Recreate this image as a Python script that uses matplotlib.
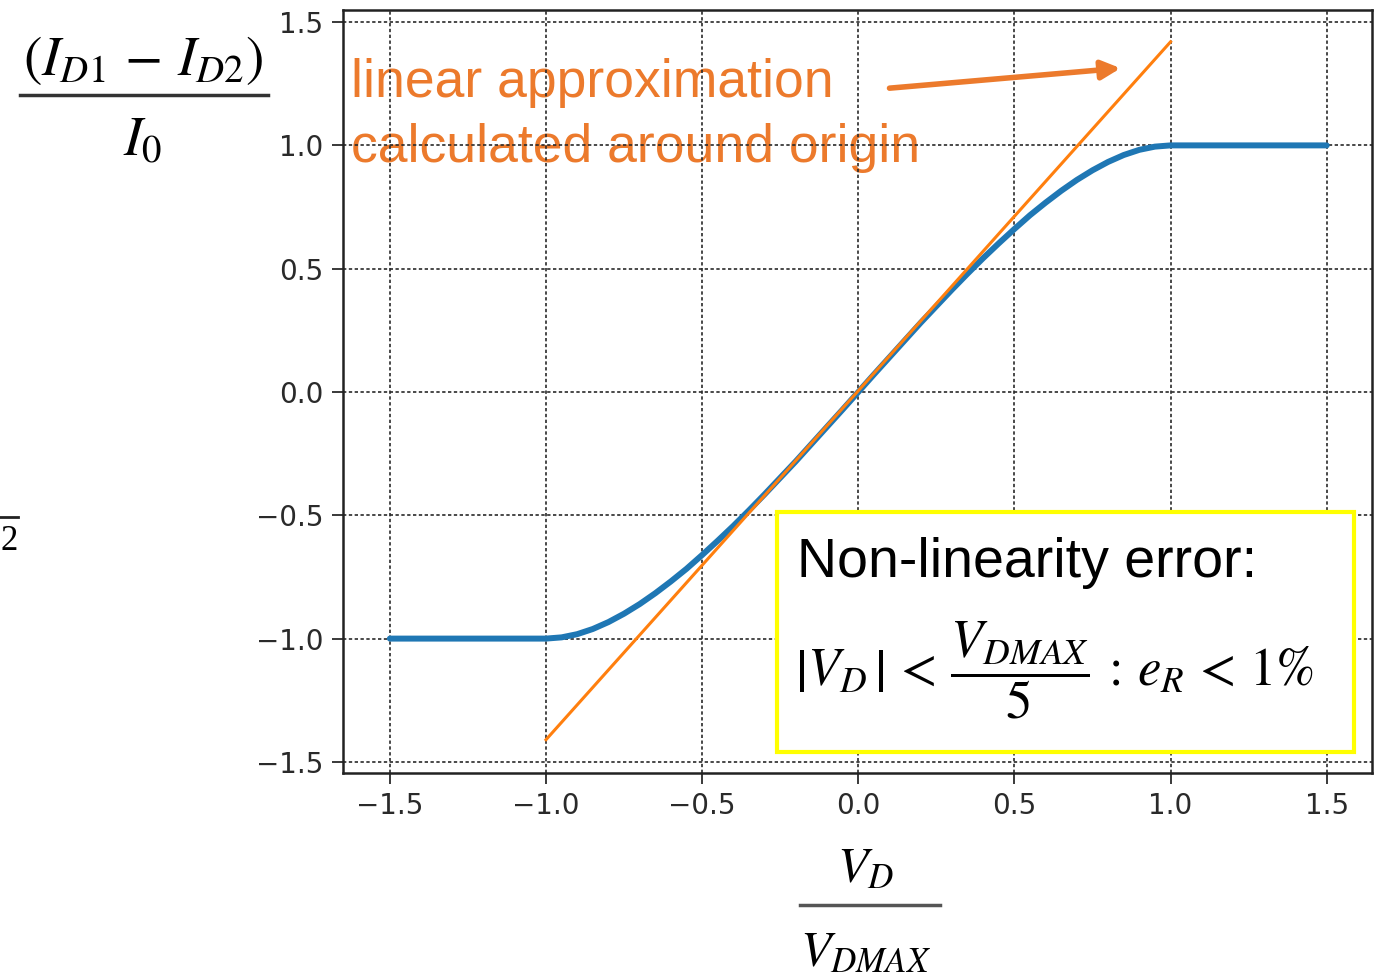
import matplotlib
matplotlib.use("Agg")
import matplotlib.pyplot as plt
from matplotlib.patches import Rectangle
from matplotlib.lines import Line2D

plt.rcParams['mathtext.fontset'] = 'stix'

# normalised transfer curve
vd_norm = [-1.5, -1.25, -1.0, -0.95, -0.9, -0.85, -0.8, -0.75, -0.7, -0.65, -0.6,
           -0.55, -0.5, -0.45, -0.4, -0.35, -0.3, -0.25, -0.2, -0.15, -0.1, -0.05,
           0.0, 0.05, 0.1, 0.15, 0.2, 0.25, 0.3, 0.35, 0.4, 0.45, 0.5, 0.55, 0.6,
           0.65, 0.7, 0.75, 0.8, 0.85, 0.9, 0.95, 1.0, 1.25, 1.5]
id_norm = [-1.0, -1.0, -1.0, -0.995, -0.982, -0.961, -0.933, -0.899, -0.86, -0.816,
           -0.768, -0.717, -0.661, -0.603, -0.543, -0.48, -0.415, -0.348, -0.281,
           -0.211, -0.141, -0.071, 0.0, 0.071, 0.141, 0.211, 0.281, 0.348, 0.415,
           0.48, 0.543, 0.603, 0.661, 0.717, 0.768, 0.816, 0.86, 0.899, 0.933,
           0.961, 0.982, 0.995, 1.0, 1.0, 1.0]

# linear approximation around the origin
lin_x = [-1.0, 1.0]
lin_y = [-1.41, 1.42]

ticks = [-1.5, -1.0, -0.5, 0.0, 0.5, 1.0, 1.5]

W, H = 1374, 977
orange_txt = '#ec7a2c'

fig = plt.figure(figsize=(W / 100, H / 100), dpi=100)
ax = fig.add_axes([343 / W, 1 - 773 / H, (1372 - 343) / W, (773 - 10) / H])

ax.plot(vd_norm, id_norm, color='#1f77b4', lw=4.3, solid_capstyle='round')
ax.plot(lin_x, lin_y, color='#ff7f0e', lw=2.2)

ax.set_xlim(-1.65, 1.645)
ax.set_ylim(-1.545, 1.549)
ax.set_xticks(ticks)
ax.set_yticks(ticks)
ax.tick_params(labelsize=20, length=8, width=1.3, colors='#2a2a2a', pad=6)
ax.grid(True, color='#2a2a2a', lw=1.2, linestyle=(0, (2, 1.5)))
for s in ax.spines.values():
    s.set_linewidth(1.8)
    s.set_color('#222222')

# annotation text + arrow
ax.text(-1.625, 1.12, 'linear approximation\ncalculated around origin',
        color=orange_txt, fontsize=38.5, family='Liberation Sans',
        va='center', ha='left', linespacing=1.38, zorder=1)
ax.annotate('', xy=(0.84, 1.313), xytext=(0.10, 1.232),
            arrowprops=dict(arrowstyle='-|>', color=orange_txt, lw=4,
                            mutation_scale=28, shrinkA=0, shrinkB=0))

# non-linearity box
box = Rectangle((777 / W, 1 - 752 / H), (1354 - 777) / W, (752 - 512) / H,
                transform=fig.transFigure, facecolor='white', edgecolor='#ffff00',
                lw=3, zorder=5)
fig.patches.append(box)
fig.text(797 / W, 1 - 563 / H, 'Non-linearity error:', fontsize=40,
         family='Liberation Sans', va='center', ha='left', zorder=6)
fig.text(795 / W, 1 - 670 / H,
         r'$\left|V_D\,\right| \,<\, \dfrac{V_{DMAX}}{5}\, :\, e_R \,<\, 1\%$',
         fontsize=38, va='center', ha='left', zorder=6)

# y label as a fraction
fig.text(143 / W, 1 - 60 / H, r'$\left(I_{D1} \,-\, I_{D2}\right)$', fontsize=40,
         ha='center', va='center')
fig.add_artist(Line2D([20 / W, 268 / W], [1 - 95 / H, 1 - 95 / H],
                      transform=fig.transFigure, color='#333333', lw=2.5))
fig.text(143 / W, 1 - 140 / H, r'$I_0$', fontsize=40, ha='center', va='center')

# x label as a fraction
fig.text(866 / W, 1 - 868 / H, r'$V_D$', fontsize=36, ha='center', va='center')
fig.add_artist(Line2D([800 / W, 940 / W], [1 - 905 / H, 1 - 905 / H],
                      transform=fig.transFigure, color='#555555', lw=2.5))
fig.text(866 / W, 1 - 952 / H, r'$V_{DMAX}$', fontsize=36, ha='center', va='center')

# cropped fragment at left edge
fig.add_artist(Line2D([0, 18 / W], [1 - 517 / H, 1 - 517 / H],
                      transform=fig.transFigure, color='#222222', lw=2))
fig.text(0.5 / W, 1 - 541 / H, '2', fontsize=25, family='Liberation Serif',
         ha='left', va='center')

fig.savefig('out.png', dpi=100)
